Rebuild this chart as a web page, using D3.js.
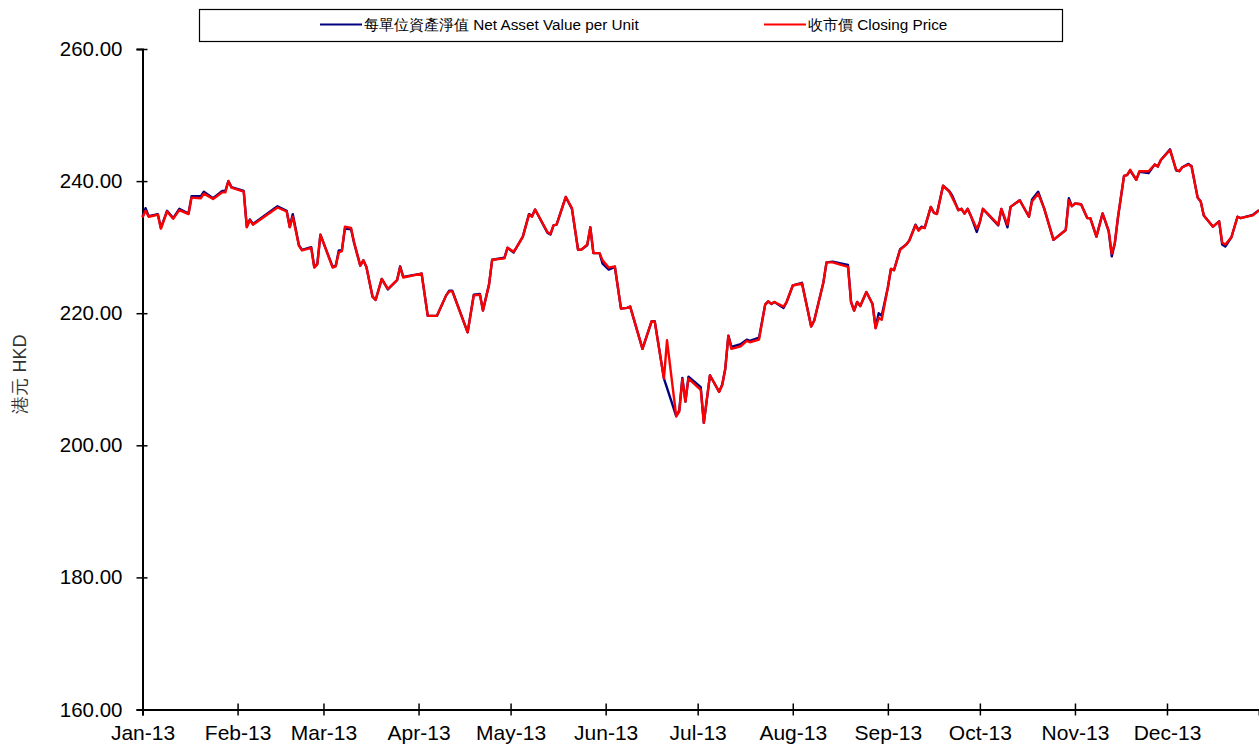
<!DOCTYPE html>
<html>
<head>
<meta charset="utf-8">
<script src="https://cdn.jsdelivr.net/npm/d3@7"></script>
<style>
  body { margin: 0; background: #fff; }
  text { font-family: "Liberation Sans", Arial, sans-serif; }
</style>
</head>
<body>
<div id="chart"></div>
<script>
// trading dates
var dates = [
  "2013-01-01","2013-01-02","2013-01-03","2013-01-06","2013-01-07","2013-01-09","2013-01-11","2013-01-13",
  "2013-01-16","2013-01-17","2013-01-20","2013-01-21","2013-01-24","2013-01-27","2013-01-28","2013-01-29",
  "2013-01-30","2013-02-03","2013-02-04","2013-02-05","2013-02-06","2013-02-14","2013-02-17","2013-02-18",
  "2013-02-19","2013-02-21","2013-02-22","2013-02-25","2013-02-26","2013-02-27","2013-02-28","2013-03-04",
  "2013-03-05","2013-03-06","2013-03-07","2013-03-08","2013-03-10","2013-03-11","2013-03-13","2013-03-14",
  "2013-03-15","2013-03-17","2013-03-18","2013-03-20","2013-03-22","2013-03-25","2013-03-26","2013-03-27",
  "2013-04-02","2013-04-04","2013-04-07","2013-04-10","2013-04-11","2013-04-12","2013-04-17","2013-04-19",
  "2013-04-21","2013-04-22","2013-04-24","2013-04-25","2013-04-29","2013-04-30","2013-05-02","2013-05-03",
  "2013-05-05","2013-05-07","2013-05-08","2013-05-09","2013-05-13","2013-05-14","2013-05-15","2013-05-16",
  "2013-05-19","2013-05-21","2013-05-23","2013-05-24","2013-05-26","2013-05-27","2013-05-28","2013-05-30",
  "2013-05-31","2013-06-02","2013-06-04","2013-06-06","2013-06-08","2013-06-09","2013-06-13","2013-06-16",
  "2013-06-17","2013-06-20","2013-06-21","2013-06-24","2013-06-25","2013-06-26","2013-06-27","2013-06-28",
  "2013-07-02","2013-07-03","2013-07-05","2013-07-08","2013-07-09","2013-07-10","2013-07-11","2013-07-12",
  "2013-07-15","2013-07-17","2013-07-18","2013-07-21","2013-07-23","2013-07-24","2013-07-25","2013-07-26",
  "2013-07-29","2013-07-30","2013-08-01","2013-08-04","2013-08-07","2013-08-08","2013-08-11","2013-08-12",
  "2013-08-14","2013-08-19","2013-08-20","2013-08-21","2013-08-22","2013-08-23","2013-08-25","2013-08-27",
  "2013-08-28","2013-08-29","2013-08-30","2013-09-01","2013-09-02","2013-09-03","2013-09-05","2013-09-07",
  "2013-09-08","2013-09-10","2013-09-11","2013-09-12","2013-09-13","2013-09-15","2013-09-16","2013-09-17",
  "2013-09-19","2013-09-21","2013-09-22","2013-09-24","2013-09-25","2013-09-26","2013-09-27","2013-09-28",
  "2013-09-30","2013-10-01","2013-10-02","2013-10-07","2013-10-08","2013-10-10","2013-10-11","2013-10-14",
  "2013-10-17","2013-10-18","2013-10-20","2013-10-22","2013-10-25","2013-10-29","2013-10-30","2013-10-31",
  "2013-11-01","2013-11-03","2013-11-05","2013-11-06","2013-11-08","2013-11-10","2013-11-12","2013-11-13",
  "2013-11-14","2013-11-15","2013-11-17","2013-11-18","2013-11-19","2013-11-21","2013-11-22","2013-11-25",
  "2013-11-27","2013-11-28","2013-11-29","2013-12-02","2013-12-04","2013-12-05","2013-12-06","2013-12-08",
  "2013-12-09","2013-12-11","2013-12-12","2013-12-13","2013-12-16","2013-12-18","2013-12-19","2013-12-20",
  "2013-12-22","2013-12-24","2013-12-25","2013-12-29","2013-12-31"
];

// 每單位資產淨值 Net Asset Value per Unit
var nav = [
  234.6,235.9,234.7,235.0,232.9,235.5,234.4,235.8,
  235.1,237.7,237.7,238.4,237.4,238.5,238.5,240.0,
  239.1,238.5,233.1,234.2,233.5,236.2,235.5,233.1,
  235.0,230.3,229.6,230.0,227.0,227.5,231.9,227.0,
  227.2,229.5,229.5,232.8,232.7,230.6,227.2,228.0,
  227.0,222.5,222.0,225.2,223.6,225.0,227.1,225.5,
  226.0,219.6,219.6,222.7,223.4,223.4,217.1,222.8,
  222.9,220.4,224.4,228.1,228.4,229.9,229.2,230.0,
  231.6,235.0,234.7,235.7,232.2,231.9,233.3,233.4,
  237.6,235.8,229.6,229.6,230.3,233.0,229.1,229.1,
  227.5,226.6,227.0,220.7,220.8,221.0,214.6,218.8,
  218.8,210.1,208.7,204.4,205.3,210.2,206.6,210.4,
  208.8,203.4,210.6,208.1,209.2,211.6,216.6,214.9,
  215.3,216.0,215.8,216.3,221.3,221.8,221.4,221.7,
  220.8,221.7,224.2,224.6,218.0,218.9,224.7,227.7,
  227.8,227.3,221.7,220.4,221.7,221.1,223.2,221.4,
  217.8,220.0,219.6,223.9,226.7,226.5,229.7,230.4,
  231.0,233.4,232.6,233.1,232.9,236.1,235.2,235.1,
  239.3,238.5,237.8,235.6,235.8,235.1,235.8,234.8,
  232.3,233.8,235.8,233.3,235.8,233.0,236.1,237.1,
  234.6,237.2,238.4,235.8,231.1,232.6,237.4,236.2,
  236.6,236.5,234.4,234.4,231.6,235.1,232.4,228.6,
  230.6,234.4,240.8,240.9,241.6,240.2,241.4,241.2,
  242.5,242.2,243.2,244.8,241.6,241.5,242.1,242.6,
  242.3,237.5,236.9,234.8,233.1,233.9,230.4,230.1,
  231.5,234.6,234.4,234.9,235.6
];

// 收市價 Closing Price
var closing = [
  234.5,235.5,234.6,234.9,232.8,235.4,234.3,235.6,
  235.0,237.5,237.4,238.1,237.3,238.3,238.3,240.0,
  239.0,238.4,233.0,234.1,233.4,236.0,235.4,233.0,
  234.6,230.2,229.5,229.9,226.9,227.4,231.9,226.9,
  227.1,229.2,229.4,233.1,232.9,230.7,227.2,228.0,
  227.0,222.5,222.0,225.2,223.7,225.0,227.0,225.4,
  226.0,219.6,219.6,222.7,223.3,223.3,217.1,222.7,
  222.8,220.4,224.4,228.1,228.3,229.9,229.3,230.0,
  231.6,234.9,234.6,235.7,232.3,232.0,233.3,233.4,
  237.6,235.9,229.6,229.6,230.4,233.0,229.1,229.1,
  228.0,226.9,227.1,220.7,220.8,221.0,214.6,218.8,
  218.7,210.1,215.9,204.4,205.1,210.0,206.6,210.1,
  208.4,203.4,210.6,208.1,209.1,211.6,216.6,214.6,
  215.0,215.8,215.6,216.0,221.3,221.8,221.4,221.7,
  221.0,221.7,224.2,224.5,218.0,218.9,224.7,227.7,
  227.7,227.0,221.7,220.4,221.7,221.1,223.2,221.4,
  217.7,219.3,219.0,223.9,226.7,226.5,229.6,230.4,
  231.0,233.3,232.5,233.0,232.9,236.1,235.2,235.0,
  239.3,238.4,237.5,235.6,235.8,235.1,235.8,234.8,
  232.8,233.8,235.8,233.4,235.8,233.4,236.1,237.1,
  234.6,236.9,238.1,235.8,231.1,232.6,237.1,236.2,
  236.6,236.5,234.4,234.4,231.6,235.1,232.5,229.0,
  230.6,234.5,240.8,240.9,241.7,240.2,241.5,241.5,
  242.5,242.2,243.2,244.7,241.7,241.5,242.1,242.5,
  242.2,237.5,236.9,234.8,233.1,233.9,230.7,230.4,
  231.5,234.6,234.4,234.8,235.6
];

var yTicks = [160, 180, 200, 220, 240, 260];
var seriesNames = ["每單位資產淨值 Net Asset Value per Unit", "收市價 Closing Price"];
var seriesColors = ["#000080", "#ff0000"];
var yTitle = "港元 HKD";

function drawChart() {
  var W = 1259, H = 749;
  var parse = d3.timeParse("%Y-%m-%d");

  var x = d3.scaleTime()
      .domain([parse("2013-01-01"), parse("2013-12-31")])
      .range([142.5, 1259]);

  var y = d3.scaleLinear()
      .domain([160, 260])
      .range([709.5, 49]);

  var svg = d3.select("#chart").append("svg")
      .attr("width", W)
      .attr("height", H);

  // y axis
  var yAxis = d3.axisLeft(y)
      .tickValues(yTicks)
      .tickFormat(d3.format(".2f"))
      .tickSizeOuter(0)
      .tickSize(6)
      .tickPadding(14);

  var gy = svg.append("g")
      .attr("transform", "translate(142.5,0)")
      .call(yAxis);
  gy.select(".domain").attr("stroke", "#000").attr("stroke-width", 2);
  gy.selectAll(".tick line").attr("x1", 5).attr("x2", -6).attr("stroke-width", 1.5);
  gy.selectAll(".tick text")
      .style("font-size", "20.5px")
      .attr("fill", "#000");

  // x axis
  var xAxis = d3.axisBottom(x)
      .ticks(d3.timeMonth.every(1))
      .tickFormat(d3.timeFormat("%b-%y"))
      .tickSizeOuter(0)
      .tickSize(6)
      .tickPadding(10);

  var gx = svg.append("g")
      .attr("transform", "translate(0,709.5)")
      .call(xAxis);
  gx.select(".domain").attr("stroke", "#000").attr("stroke-width", 2);
  gx.selectAll(".tick line").attr("y1", -6).attr("y2", 6).attr("stroke-width", 1.5);
  gx.selectAll(".tick text")
      .style("font-size", "21px")
      .attr("fill", "#000");

  // y title
  svg.append("text")
    .attr("transform", "translate(26,374) rotate(-90)")
    .style("text-anchor", "middle")
    .style("font-size", "18px")
    .attr("fill", "#333")
    .text(yTitle);

  // lines
  var rows = dates.map(function(d, i) {
    return { date: parse(d), nav: nav[i], closing: closing[i] };
  });

  ["nav", "closing"].forEach(function(key, k) {
    var line = d3.line()
        .x(function(d) { return x(d.date); })
        .y(function(d) { return y(d[key]); });
    svg.append("path")
      .datum(rows)
      .attr("fill", "none")
      .attr("stroke", seriesColors[k])
      .attr("stroke-width", 2.4)
      .attr("stroke-linejoin", "round")
      .attr("d", line);
  });

  // legend
  var lg = svg.append("g");
  lg.append("rect")
    .attr("x", 199.5).attr("y", 9.5)
    .attr("width", 863).attr("height", 32)
    .attr("fill", "#fff")
    .attr("stroke", "#000")
    .attr("stroke-width", 1.2);

  var legendX = [320, 764];
  seriesNames.forEach(function(name, i) {
    lg.append("line")
      .attr("x1", legendX[i]).attr("x2", legendX[i] + 42)
      .attr("y1", 24.5).attr("y2", 24.5)
      .attr("stroke", seriesColors[i])
      .attr("stroke-width", 2);
    lg.append("text")
      .attr("x", legendX[i] + 44)
      .attr("y", 24.5)
      .attr("dy", "0.35em")
      .style("font-size", "15.3px")
      .attr("fill", "#000")
      .text(name);
  });
}

drawChart();
</script>
</body>
</html>
